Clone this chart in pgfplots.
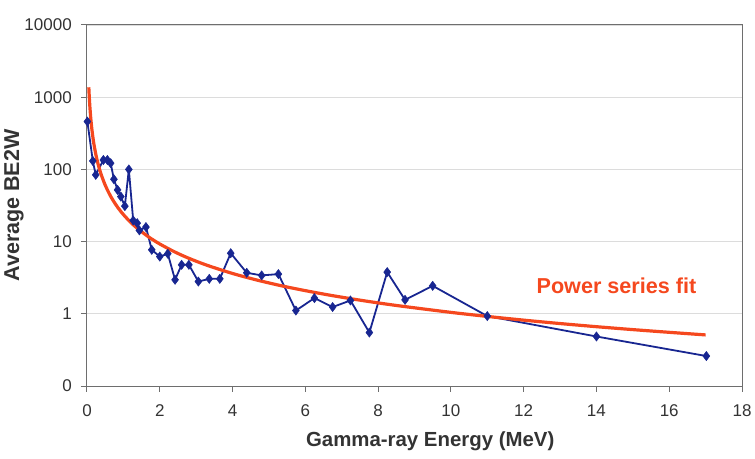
\documentclass[border=0pt]{standalone}
\usepackage{pgfplots}
\pgfplotsset{compat=1.18}
\usepackage{fontspec}
\setmainfont{Liberation Sans}

\definecolor{seriesblue}{RGB}{24,38,145}
\definecolor{fitred}{RGB}{245,72,30}
\definecolor{axisgray}{RGB}{110,110,110}
\definecolor{gridgray}{RGB}{220,220,220}

\begin{document}
\begin{tikzpicture}
\begin{axis}[
  scale only axis,
  width=655pt, height=361pt,
  xmin=0, xmax=18,
  ymode=log, ymin=0.1, ymax=10000,
  log basis y=10,
  xtick={0,2,...,18},
  ytick={0.1,1,10,100,1000,10000},
  yticklabels={0,1,10,100,1000,10000},
  minor ytick={},
  ymajorgrids,
  major grid style={gridgray, line width=0.8pt},
  axis line style={axisgray, line width=1pt},
  tick style={axisgray, line width=1pt},
  tick align=outside,
  xtick pos=bottom, ytick pos=left,
  major tick length=6pt,
  /pgf/number format/assume math mode=true,
  ticklabel style={font=\fontsize{17}{20}\selectfont, text=black!80},
  xticklabel style={yshift=-9.5pt},
  yticklabel style={xshift=-5.7pt},
  xlabel={\textbf{Gamma-ray Energy (MeV)}},
  ylabel={\textbf{Average BE2W}},
  xlabel style={font=\fontsize{20.4}{24}\selectfont, text=black!80,
    at={(axis description cs:0.524,-0.152)}, anchor=center},
  ylabel style={font=\fontsize{21.5}{24}\selectfont, text=black!80,
    at={(axis description cs:-0.1115,0.5)}, anchor=center},
  clip=false,
]
% measured averages
\addplot[seriesblue, line width=1.8pt, mark=diamond*, mark size=4.6pt,
  mark options={fill=seriesblue, line width=0.5pt}] coordinates {
  (0.01,460) (0.16,131) (0.24,84) (0.45,135) (0.56,135) (0.65,122)
  (0.74,73) (0.84,52) (0.93,42) (1.04,31) (1.15,100) (1.27,19.6)
  (1.38,18) (1.44,14.3) (1.62,15.9) (1.78,7.7) (2.0,6.2) (2.22,6.8)
  (2.42,2.96) (2.6,4.77) (2.8,4.77) (3.06,2.8) (3.36,3.05) (3.65,3.05)
  (3.95,6.9) (4.39,3.7) (4.8,3.4) (5.26,3.55) (5.74,1.11) (6.25,1.65)
  (6.75,1.24) (7.24,1.53) (7.76,0.55) (8.25,3.78) (8.74,1.56) (9.5,2.44)
  (11.0,0.93) (14.0,0.485) (17.02,0.26)
};
% power-law trend line
\addplot[fitred, line width=3.2pt, smooth] coordinates {
  (0.05,1372) (0.06,1072) (0.08,726) (0.1,537) (0.12,419) (0.14,340)
  (0.17,261) (0.2,209.8) (0.25,155) (0.3,121.1) (0.35,98.3) (0.4,82.0)
  (0.5,60.6) (0.6,47.4) (0.7,38.4) (0.85,29.5) (1,23.7) (1.2,18.5)
  (1.4,15.0) (1.7,11.55) (2,9.27) (2.4,7.24) (2.8,5.87) (3.3,4.70)
  (4,3.62) (4.7,2.91) (5.5,2.35) (6.5,1.877) (7.5,1.546) (8.5,1.305)
  (10,1.047) (11,0.92) (12,0.817) (13,0.733) (14,0.663) (15,0.604)
  (16,0.554) (17,0.510)
};
\node[text=fitred, font=\fontsize{21.6}{24}\selectfont\bfseries]
  at (axis cs:14.55,2.48) {Power series fit};
\coordinate (SW) at (rel axis cs:0,0);
\coordinate (NE) at (rel axis cs:1,1);
\end{axis}
\pgfresetboundingbox
\path ([shift={(-87pt,-72pt)}]SW) rectangle ([shift={(13pt,25pt)}]NE);
\end{tikzpicture}
\end{document}
